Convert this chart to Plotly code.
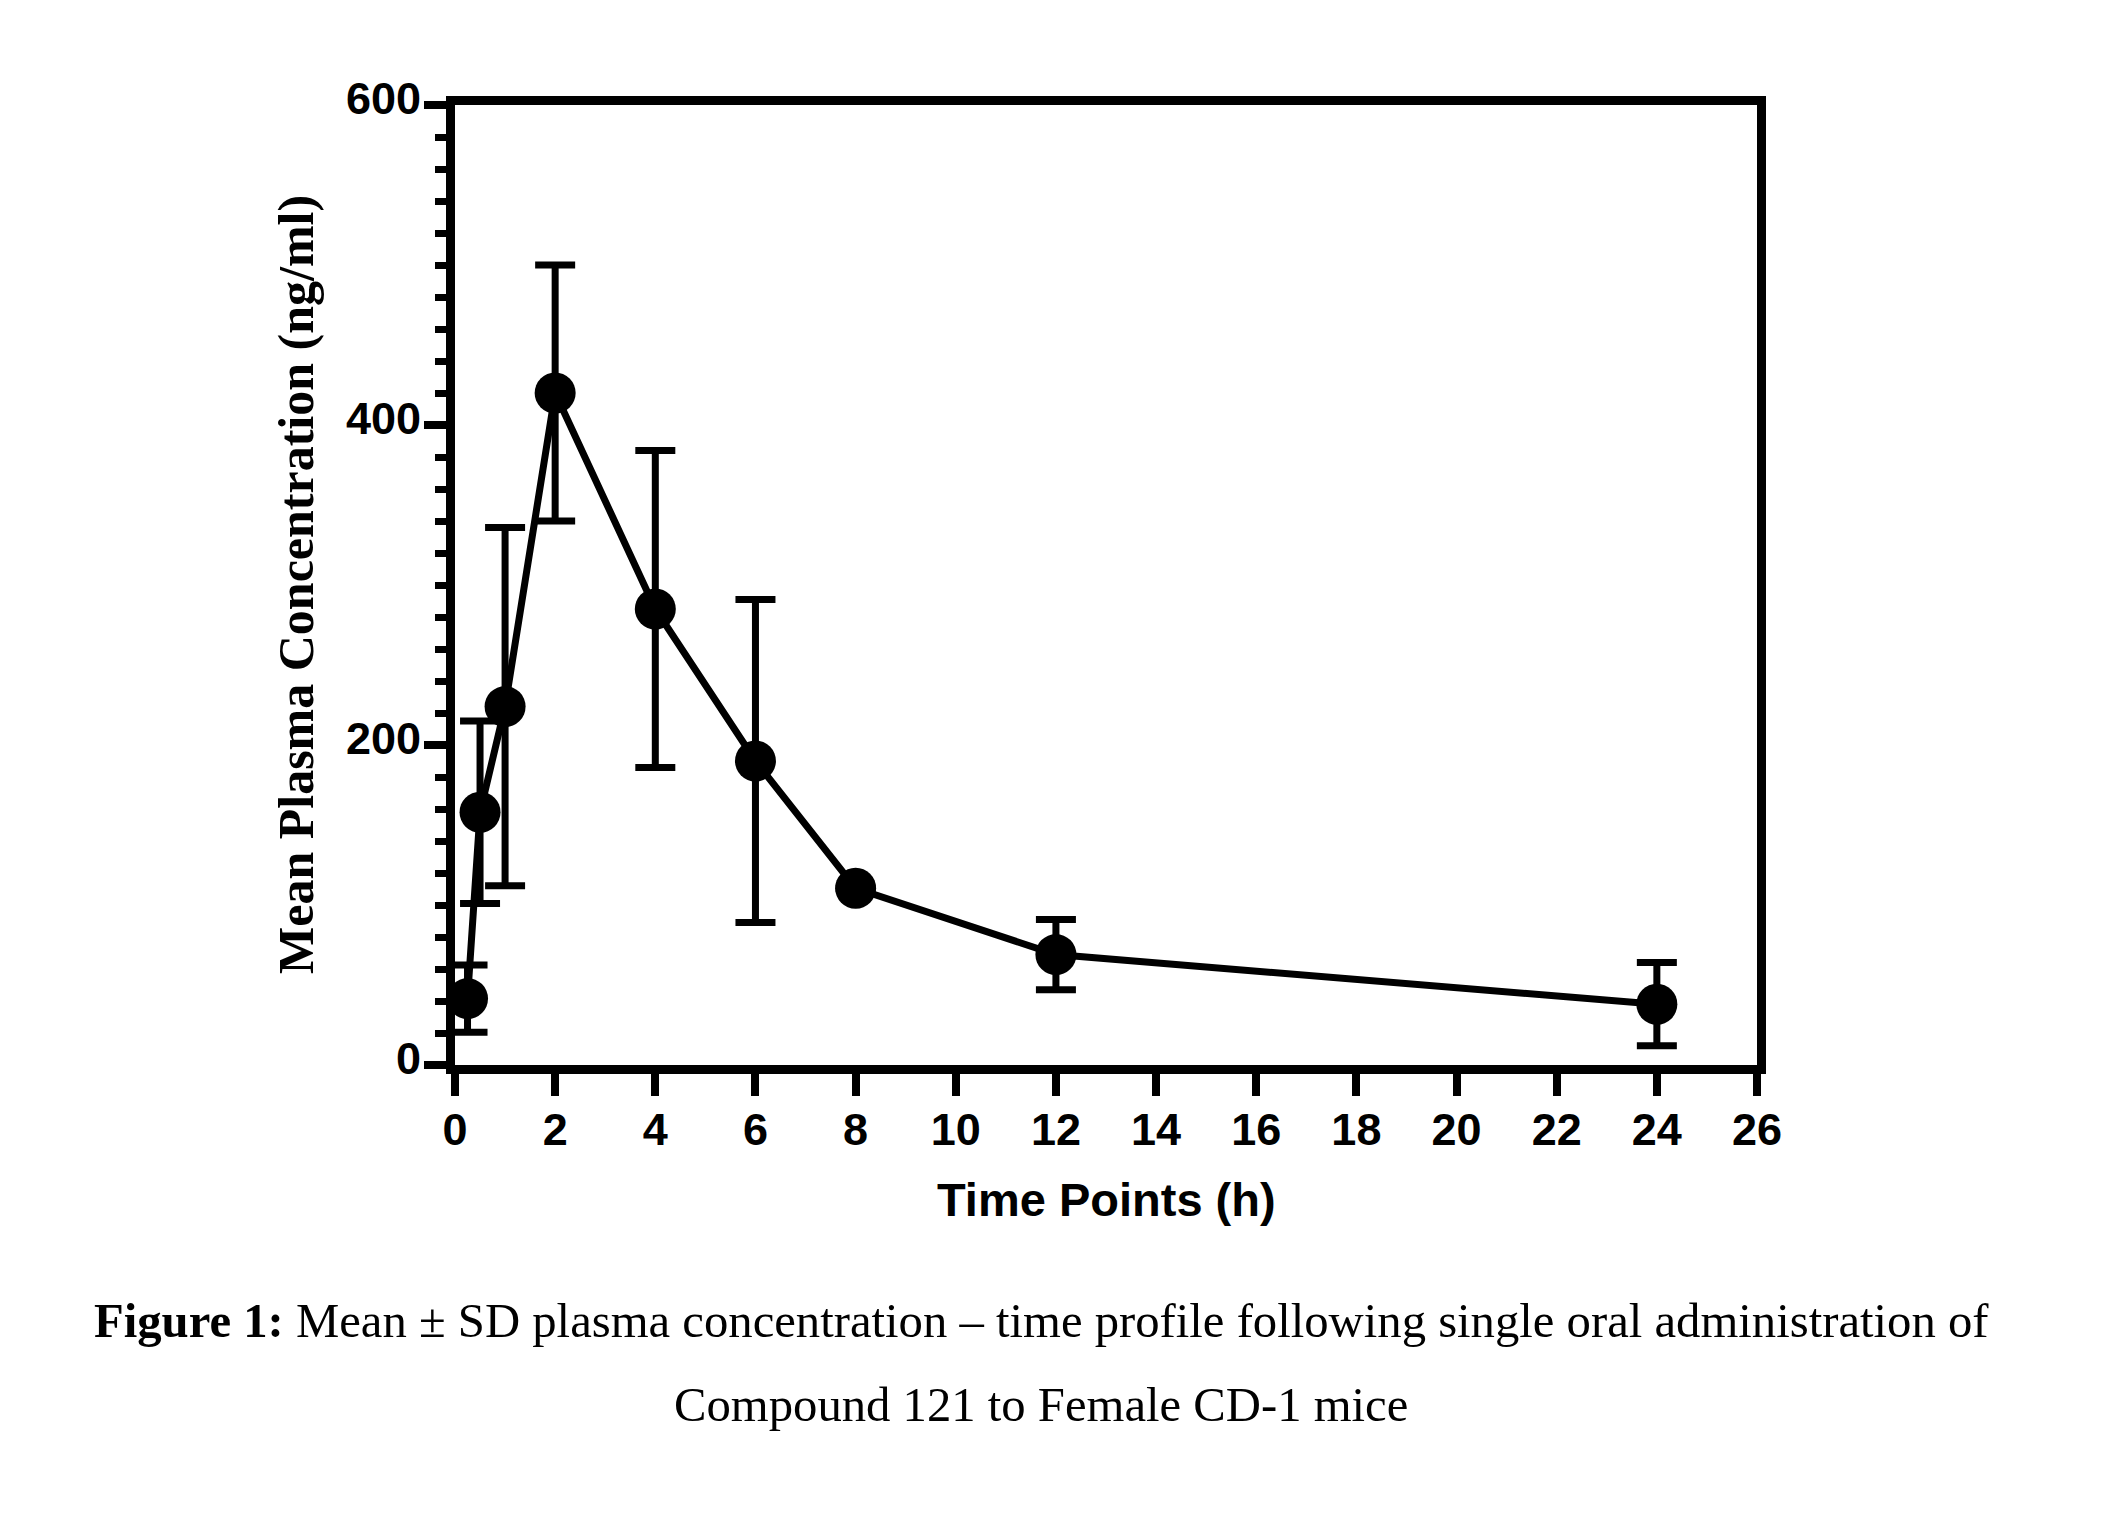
import plotly.graph_objects as go

# Data
time_h = [0.25, 0.5, 1, 2, 4, 6, 8, 12, 24]
mean_conc = [41.5, 158, 224, 420, 285, 190, 110.5, 69, 38]
sd_conc = [21, 57, 112, 80, 99, 101, 0, 22, 26]

x_ticks = list(range(0, 27, 2))
y_ticks = [0, 200, 400, 600]

y_title = "Mean Plasma Concentration (ng/ml)"
x_title = "Time Points (h)"
caption_1 = "<b>Figure 1:</b> Mean ± SD plasma concentration – time profile following single oral administration of"
caption_2 = "Compound 121 to Female CD-1 mice"

W, H = 2115, 1525
ML, MR, MT, MB = 455, 358, 105, 460
PW = W - ML - MR
PH = H - MT - MB


def px_to_paper_x(px):
    return (px - ML) / PW


def px_to_paper_y(py):
    return (H - MB - py) / PH


fig = go.Figure()
fig.add_trace(go.Scatter(
    x=time_h, y=mean_conc,
    mode="lines+markers",
    line=dict(color="black", width=7),
    marker=dict(color="black", size=41),
    error_y=dict(type="data", array=sd_conc, visible=True,
                 color="black", thickness=7, width=20),
    cliponaxis=False,
    showlegend=False,
))

sans = "Liberation Sans, Arial, sans-serif"
serif = "Liberation Serif, Times New Roman, serif"

fig.update_layout(
    width=W, height=H,
    margin=dict(l=ML, r=MR, t=MT, b=MB),
    paper_bgcolor="white", plot_bgcolor="white",
    xaxis=dict(
        range=[0, 26], tickvals=x_ticks, ticktext=[str(v) for v in x_ticks],
        showline=True, linecolor="black", linewidth=9, mirror=True,
        ticks="outside", ticklen=22, tickwidth=8, tickcolor="black",
        ticklabelstandoff=-5,
        tickfont=dict(family=sans, size=45, color="black", weight="bold"),
        showgrid=False, zeroline=False,
    ),
    yaxis=dict(
        range=[0, 600], tickvals=y_ticks, ticktext=[str(v) for v in y_ticks],
        showline=True, linecolor="black", linewidth=9, mirror=True,
        ticks="outside", ticklen=22, tickwidth=8, tickcolor="black",
        ticklabelstandoff=-6, ticklabelshift=-7,
        tickfont=dict(family=sans, size=45, color="black", weight="bold"),
        minor=dict(dtick=20, ticks="outside", ticklen=11, tickwidth=7,
                   tickcolor="black", showgrid=False),
        showgrid=False, zeroline=False,
    ),
)

annotations = [
    dict(text=y_title, textangle=-90, x=px_to_paper_x(296), y=0.5,
         font=dict(family=serif, size=50, color="black", weight="bold")),
    dict(text=x_title, x=px_to_paper_x(1106), y=px_to_paper_y(1199),
         font=dict(family=sans, size=47, color="black", weight="bold")),
    dict(text=caption_1, x=px_to_paper_x(1041), y=px_to_paper_y(1321),
         font=dict(family=serif, size=48.7, color="black")),
    dict(text=caption_2, x=px_to_paper_x(1041), y=px_to_paper_y(1405),
         font=dict(family=serif, size=48.7, color="black")),
]
for a in annotations:
    a.update(xref="paper", yref="paper", showarrow=False,
             xanchor="center", yanchor="middle")
fig.update_layout(annotations=annotations)

fig.write_html("out.html")
